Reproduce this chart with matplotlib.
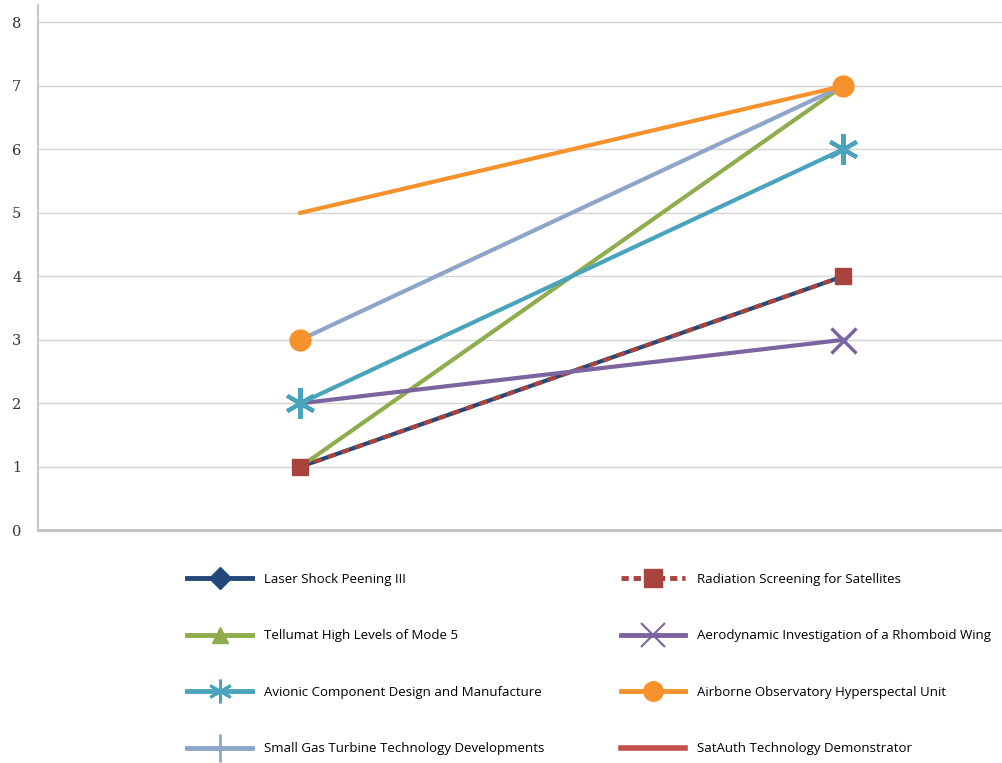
import matplotlib.pyplot as plt
from matplotlib.lines import Line2D

# ===== DATA =====
x_pos = [0, 1]
laser_shock = [1, 4]
radiation = [1, 4]
tellumat = [1, 7]
aerodynamic = [2, 3]
avionic = [2, 6]
small_gas = [3, 7]
airborne_line = [5, 7]
airborne_points = [3, 7]
y_ticks = [0, 1, 2, 3, 4, 5, 6, 7, 8]

labels = ["Laser Shock Peening III", "Tellumat High Levels of Mode 5",
          "Avionic Component Design and Manufacture", "Small Gas Turbine Technology Developments",
          "Radiation Screening for Satellites", "Aerodynamic Investigation of a Rhomboid Wing",
          "Airborne Observatory Hyperspectal Unit", "SatAuth Technology Demonstrator"]

c_navy = '#23497a'
c_red = '#a8433d'
c_green = '#8fad4c'
c_purple = '#7b64a0'
c_teal = '#4aa3bd'
c_lblue = '#8ea5c9'
c_orange = '#f5922c'
c_satred = '#c0504d'

fig = plt.figure(figsize=(10.02, 7.63), dpi=100)
ax = fig.add_axes([0.038, 0.305, 0.962, 0.688])

asterisk = (6, 2, 0)

# ===== LINES =====
ax.plot(x_pos, laser_shock, color=c_navy, lw=3, zorder=2)
ax.plot(x_pos, radiation, color=c_red, lw=3, ls=(0, (2, 1.5)), marker='s', ms=12, zorder=3)
ax.plot(x_pos, aerodynamic, color=c_purple, lw=3, marker='x', ms=18, mew=2.5, markevery=[1], zorder=3)
ax.plot(x_pos, tellumat, color=c_green, lw=3, zorder=2)
ax.plot(x_pos, avionic, color=c_teal, lw=3, marker=asterisk, ms=22, mew=3, zorder=4)
ax.plot(x_pos, small_gas, color=c_lblue, lw=3, zorder=4)
ax.plot(x_pos, airborne_line, color=c_orange, lw=3, zorder=5)
ax.plot(x_pos, airborne_points, ls='none', marker='o', ms=15, color=c_orange, zorder=6)

ax.set_xlim(-0.483, 1.293)
ax.set_ylim(0, 8.27)
ax.set_yticks(y_ticks)
ax.set_yticklabels([str(t) for t in y_ticks], family='DejaVu Serif', fontsize=10.5, color='#333333')
ax.set_xticks([])
ax.tick_params(axis='y', length=0, pad=12)
ax.grid(axis='y', color='#d4d4d4', lw=1)
ax.set_axisbelow(True)
for s in ['top', 'right']:
    ax.spines[s].set_visible(False)
ax.spines['left'].set_color('#c8c8c8')
ax.spines['left'].set_linewidth(1.5)
ax.spines['bottom'].set_color('#c0c0c0')
ax.spines['bottom'].set_linewidth(2)

# ===== LEGEND =====
handles = [
    Line2D([], [], color=c_navy, lw=3.5, marker='D', ms=11),
    Line2D([], [], color=c_green, lw=3.5, marker='^', ms=12),
    Line2D([], [], color=c_teal, lw=3.5, marker=asterisk, ms=17, mew=2),
    Line2D([], [], color=c_lblue, lw=3.5, marker='|', ms=20, mew=2),
    Line2D([], [], color=c_red, lw=3.5, ls=(0, (1.5, 1)), marker='s', ms=13),
    Line2D([], [], color=c_purple, lw=3.5, marker='x', ms=17, mew=1.5),
    Line2D([], [], color=c_orange, lw=3.5, marker='o', ms=14),
    Line2D([], [], color=c_satred, lw=4),
]
fig.legend(handles, labels, ncol=2, loc='upper left', bbox_to_anchor=(0.175, 0.265),
           frameon=False, prop={'family': 'Open Sans', 'size': 9.5},
           handlelength=4.9, labelspacing=3.3, columnspacing=5.8, handletextpad=0.9)

plt.savefig('out.png', dpi=100)
